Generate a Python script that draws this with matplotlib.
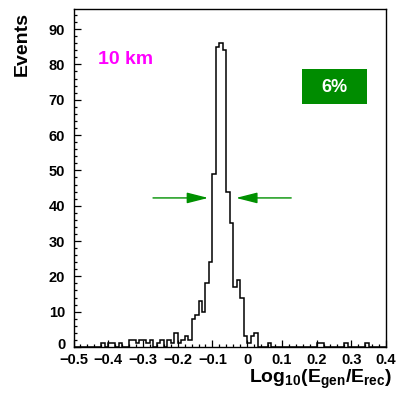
import numpy as np
import matplotlib
matplotlib.use("Agg")
import matplotlib.pyplot as plt
import matplotlib.transforms as mtransforms
from matplotlib.ticker import MultipleLocator, FuncFormatter
from matplotlib.patches import Rectangle

plt.rcParams['font.family'] = ['Liberation Sans', 'DejaVu Sans']
plt.rcParams['mathtext.fontset'] = 'custom'
plt.rcParams['mathtext.rm'] = 'Liberation Sans:bold'
plt.rcParams['mathtext.bf'] = 'Liberation Sans:bold'
plt.rcParams['mathtext.it'] = 'Liberation Sans:bold'

# ---- data: histogram of log10(Egen/Erec), 0.01 bins from -0.5 to 0.4 ----
bin_lo = -0.5
bin_hi = 0.4
n_bins = 90
# counts keyed by bin index (lower edge = -0.5 + 0.01*i); other bins are zero
nonzero_bins = [8, 10, 11, 13, 16, 17, 18, 19, 20, 21, 22, 24, 25, 27, 28, 29,
                30, 31, 32, 33, 34, 35, 36, 37, 38, 39, 40, 41, 42, 43, 44, 45,
                46, 47, 48, 49, 50, 51, 52, 56, 70, 71, 78, 84]
nonzero_counts = [1, 1, 1, 1, 2, 2, 1, 2, 2, 1, 2, 1, 2, 2, 1, 4,
                  1, 2, 3, 2, 8, 9, 13, 10, 18, 24, 49, 85, 86, 84, 44, 35,
                  17, 19, 14, 3, 1, 3, 4, 1, 1, 1, 1, 1]

x_ticks = [-0.5, -0.4, -0.3, -0.2, -0.1, 0, 0.1, 0.2, 0.3, 0.4]
y_ticks = [0, 10, 20, 30, 40, 50, 60, 70, 80, 90]
label_text = "10 km"
box_text = "6%"
fwhm_y = 42.2
left_arrow = (-0.271, -0.112)
right_arrow = (0.127, -0.032)

counts = np.zeros(n_bins)
counts[nonzero_bins] = nonzero_counts
edges = np.linspace(bin_lo, bin_hi, n_bins + 1)

W, H = 397, 395
fig = plt.figure(figsize=(W / 100, H / 100), dpi=100)
ax = fig.add_axes([73.5 / W, 1 - 347 / H, (386 - 73.5) / W, (347 - 9.3) / H])

ax.stairs(counts, edges, color='black', linewidth=1.1)

ax.set_xlim(-0.5, 0.4)
ax.set_ylim(0, 95.6)
ax.set_xticks(x_ticks)
ax.set_yticks(y_ticks)
ax.xaxis.set_minor_locator(MultipleLocator(0.02))
ax.yaxis.set_minor_locator(MultipleLocator(2))


def fmt_x(v, pos):
    if abs(v) < 1e-9:
        return '0'
    s = f'{v:.1f}'
    return s.replace('-', '\u2212')


ax.xaxis.set_major_formatter(FuncFormatter(fmt_x))
ax.tick_params(axis='both', which='major', direction='in', length=5.3, width=0.9,
               labelsize=10.5, top=False, right=False)
ax.tick_params(axis='both', which='minor', direction='in', length=2.5, width=0.9,
               top=False, right=False)
ax.tick_params(axis='x', pad=4)
ax.tick_params(axis='y', pad=6)
for lab in ax.get_xticklabels() + ax.get_yticklabels():
    lab.set_fontweight('bold')
for sp in ax.spines.values():
    sp.set_linewidth(1.0)

# lift the y "0" label a touch so it does not collide with the x "-0.5" label
zero_lab = ax.yaxis.get_major_ticks()[0].label1
zero_lab.set_transform(zero_lab.get_transform() +
                       mtransforms.ScaledTranslation(0, 2.5 / 72, fig.dpi_scale_trans))

# FWHM arrows
ax.annotate('', xy=(left_arrow[1], fwhm_y), xytext=(left_arrow[0], fwhm_y),
            arrowprops=dict(arrowstyle='-|>,head_length=1.3,head_width=0.33',
                            color='#009000', lw=1.0, shrinkA=0, shrinkB=0))
ax.annotate('', xy=(right_arrow[1], fwhm_y), xytext=(right_arrow[0], fwhm_y),
            arrowprops=dict(arrowstyle='-|>,head_length=1.3,head_width=0.33',
                            color='#009000', lw=1.0, shrinkA=0, shrinkB=0))

# texts
fig.text(22 / W, 1 - 12 / H, 'Events', rotation=90, ha='center', va='top',
         fontsize=14, fontweight='bold')
fig.text(98 / W, 1 - 60 / H, label_text, ha='left', va='center',
         fontsize=14, fontweight='bold', color='#ff00ff')
fig.patches.append(Rectangle((302 / W, 1 - 104 / H), 65 / W, 35 / H,
                             transform=fig.transFigure, facecolor='#008c00',
                             edgecolor='none'))
fig.text(334.5 / W, 1 - 87 / H, box_text, ha='center', va='center',
         fontsize=13, fontweight='bold', color='white')
fig.text(392 / W, 1 - 383 / H,
         r'Log$_{10}$(E$_{gen}$/E$_{rec}$)', ha='right', va='baseline',
         fontsize=14, fontweight='bold')

fig.savefig('out.png', dpi=100)
